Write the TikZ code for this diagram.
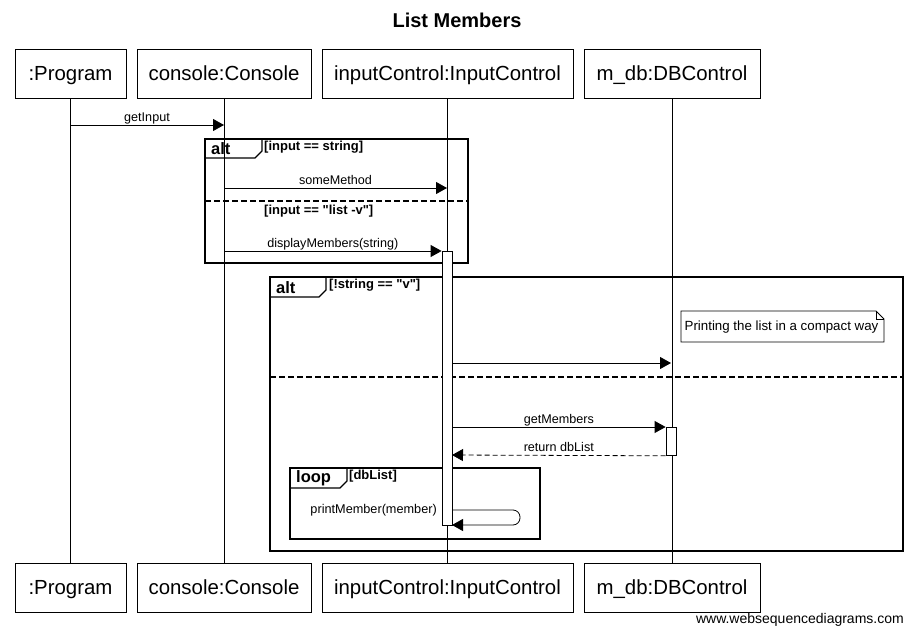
\documentclass[tikz,border=0pt]{standalone}
\usepackage{fontspec}
\setmainfont{Liberation Sans}[Ligatures=TeXOff]
\usetikzlibrary{arrows.meta}
\tikzset{
 part/.style={draw, line width=1pt, minimum height=49pt, inner sep=0pt, fill=white, font=\fontsize{20.4}{22}\selectfont, text height=17pt, text depth=4pt},
 msg/.style={line width=0.8pt, -{Triangle[length=11pt,width=12pt]}},
 rmsg/.style={msg, dash pattern=on 5pt off 3pt},
 lbl/.style={font=\fontsize{12.6}{14}\selectfont, inner sep=0pt, anchor=base, yshift=3.5pt},
 frm/.style={draw, line width=2pt},
 tabline/.style={line width=1.3pt},
 sep/.style={line width=2pt, dash pattern=on 6pt off 3pt},
 tabtxt/.style={font=\bfseries\fontsize{16.5}{18}\selectfont, anchor=west, inner sep=0pt},
 guard/.style={font=\bfseries\fontsize{13}{14}\selectfont, anchor=north west, inner sep=0pt},
 life/.style={line width=0.8pt},
 act/.style={draw, fill=white, line width=0.8pt, inner sep=0pt, minimum width=10pt, anchor=north},
 notetxt/.style={font=\fontsize{13.3}{15}\selectfont, inner sep=0pt},
}
\begin{document}
\begin{tikzpicture}[x=1pt, y=-1pt]
\useasboundingbox (0,0) rectangle (914,635);
\node[font=\bfseries\fontsize{20}{24}\selectfont] (title) at (457,20) {List Members};
% participants
\node[part, minimum width=111pt] (prog) at (70.5,73.5) {:Program};
\node[part, minimum width=174pt] (cons) at (224,73.5) {console:Console};
\node[part, minimum width=251pt] (ictl) at (447.5,73.5) {inputControl:InputControl};
\node[part, minimum width=176pt] (db) at (672,73.5) {m\_db:DBControl};
\node[part, minimum width=111pt] (progB) at (70.5,588) {:Program};
\node[part, minimum width=174pt] (consB) at (224,588) {console:Console};
\node[part, minimum width=251pt] (ictlB) at (447.5,588) {inputControl:InputControl};
\node[part, minimum width=176pt] (dbB) at (672,588) {m\_db:DBControl};
% lifelines
\draw[life] (prog.south) -- (progB.north);
\draw[life] (cons.south) -- (consB.north);
\draw[life] (ictl.south) -- (ictlB.north);
\draw[life] (db.south) -- (dbB.north);
% frame 1: alt
\draw[frm] (205,139) rectangle (468,263);
\draw[tabline] (205,158) -- (255,158) -- (262,151) -- (262,139);
\node[tabtxt] (alt1) at (211,149) {alt};
\node[guard] (g1) at (264,140.5) {[input == string]};
\draw[sep] (205,201) -- (468,201);
\node[guard] (g2) at (264,204.5) {[input == "list -v"]};
% frame 2: alt
\draw[frm] (270,277) rectangle (903,551);
\draw[tabline] (270,297) -- (319,297) -- (326,290) -- (326,277);
\node[tabtxt] (alt2) at (276,287.5) {alt};
\node[guard] (g3) at (329,278.5) {[!string == "v"]};
\draw[sep] (270,377) -- (903,377);
% frame 3: loop
\draw[frm] (290,468) rectangle (540,539);
\draw[tabline] (290,488) -- (340,488) -- (347,481) -- (347,468);
\node[tabtxt] (loop) at (296,478.5) {loop};
\node[guard] (g4) at (349,469.5) {[dbList]};
% activations
\node[act, minimum height=274pt] (actI) at (447,251) {};
\node[act, minimum height=28pt] (actD) at (671,427) {};
% note
\draw[fill=white, line width=0.8pt] (681,311) -- (876,311) -- (884,319) -- (884,342) -- (681,342) -- cycle;
\draw[line width=0.8pt] (876,311) -- (876,319) -- (884,319);
\node[notetxt] (note) at (781.5,327) {Printing the list in a compact way};
% message coordinates
\coordinate (m1a) at (70,125);  \coordinate (m1b) at (224,125);
\coordinate (m2a) at (224,188); \coordinate (m2b) at (447,188);
\coordinate (m3a) at (224,251);
\coordinate (m4a) at (452,363); \coordinate (m4b) at (671,363);
\coordinate (m5a) at (452,427);
\coordinate (m6a) at (452,455);
\coordinate (s1) at (452,510); \coordinate (s2) at (520,510);
\coordinate (s3) at (520,525); \coordinate (s4) at (452,525);
% messages
\draw[msg] (m1a) -- node[lbl] {getInput} (m1b);
\draw[msg] (m2a) -- node[lbl] {someMethod} (m2b);
\draw[msg] (m3a) -- node[lbl] {displayMembers(string)} (actI.north west);
\draw[msg] (m4a) -- (m4b);
\draw[msg] (m5a) -- node[lbl] {getMembers} (actD.north west);
\draw[rmsg] (actD.south west) -- node[lbl] {return dbList} (m6a);
\draw[msg, rounded corners=7pt] (s1) -- (s2) -- (s3) -- (s4);
\node[font=\fontsize{12.7}{14}\selectfont, anchor=east, inner sep=0pt] (pm) at (437,510) {printMember(member)};
% watermark
\node[font=\fontsize{14}{16}\selectfont, anchor=east, inner sep=0pt] (wm) at (904,620) {www.websequencediagrams.com};
\end{tikzpicture}
\end{document}
